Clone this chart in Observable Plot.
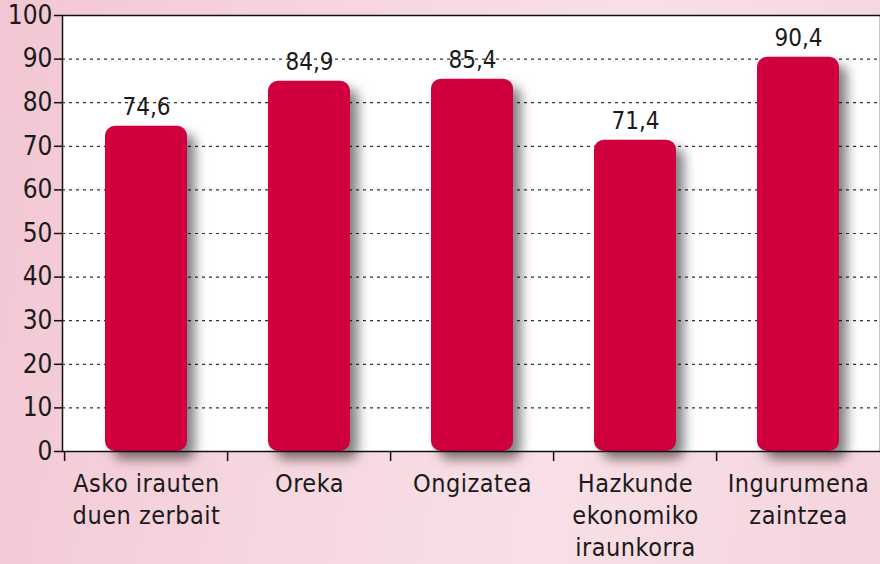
<!DOCTYPE html>
<html>
<head>
<meta charset="utf-8">
<script src="https://cdn.jsdelivr.net/npm/d3@7"></script>
<script src="https://cdn.jsdelivr.net/npm/@observablehq/plot@0.6"></script>
<style>
  html, body { margin: 0; padding: 0; }
  body { width: 880px; height: 564px; overflow: hidden;
    background: linear-gradient(100deg, #f2c6d3 0%, #f6d6df 35%, #f8e0e6 65%, #f5d4dd 100%); }
</style>
</head>
<body>
<div id="chart"></div>
<script>
const categories = ["Asko irauten duen zerbait", "Oreka", "Ongizatea", "Hazkunde ekonomiko iraunkorra", "Ingurumena zaintzea"];
const tickLabels = ["Asko irauten\nduen zerbait", "Oreka", "Ongizatea", "Hazkunde\nekonomiko\niraunkorra", "Ingurumena\nzaintzea"];
const values = [74.6, 84.9, 85.4, 71.4, 90.4];
const yTicks = [0, 10, 20, 30, 40, 50, 60, 70, 80, 90, 100];
const gridTicks = [10, 20, 30, 40, 50, 60, 70, 80, 90];

const data = categories.map((c, i) => ({category: c, value: values[i]}));
const labelOf = new Map(categories.map((c, i) => [c, tickLabels[i]]));

const W = 880, H = 564;
const xRange = [62, 881];
const step = (xRange[1] - xRange[0]) / categories.length;
const font = "'DejaVu Sans Condensed', 'DejaVu Sans', sans-serif";

const chart = Plot.plot({
  width: W,
  height: H,
  marginLeft: 62,
  marginTop: 15,
  marginBottom: 113,
  marginRight: 0,
  style: {background: "transparent", fontFamily: font, color: "#1a1a1a", overflow: "visible"},
  x: {domain: categories, range: xRange, paddingInner: 0.5, paddingOuter: 0.25, label: null},
  y: {domain: [0, 100], label: null},
  marks: [
    Plot.frame({fill: "white", stroke: null}),
    Plot.gridY(gridTicks, {stroke: "#333", strokeOpacity: 1, strokeDasharray: "3,4", strokeWidth: 1.2}),
    Plot.barY(data, {x: "category", y: "value", fill: "#cf003d", rx: 10}),
    Plot.text(data, {x: "category", y: "value", text: d => d.value.toFixed(1).replace(".", ","),
      lineAnchor: "bottom", dy: -11, fontSize: 24, fill: "#1a1a1a"}),
    Plot.axisY(yTicks, {tickSize: 8, tickPadding: 2, fontSize: 26, stroke: "#111", fill: "#1a1a1a", strokeWidth: 1.5}),
    Plot.axisX({tickSize: 0, tickPadding: 18, fontSize: 25, lineHeight: 1.28, tickFormat: d => labelOf.get(d), fill: "#1a1a1a"}),
    Plot.ruleX(categories, {x: d => d, y1: 0, y2: 0, dx: -step / 2, insetBottom: -10, stroke: "#111", strokeWidth: 1.5}),
    Plot.frame({stroke: "#111", strokeWidth: 1.5})
  ]
});

d3.select(chart).selectAll("g[aria-label='bar']")
  .style("filter", "drop-shadow(8px 8px 6px rgba(0,0,0,0.5))");
d3.select(chart).selectAll("g[aria-label='x-axis tick label']")
  .style("letter-spacing", "0.5px");

document.getElementById("chart").appendChild(chart);
</script>
</body>
</html>
